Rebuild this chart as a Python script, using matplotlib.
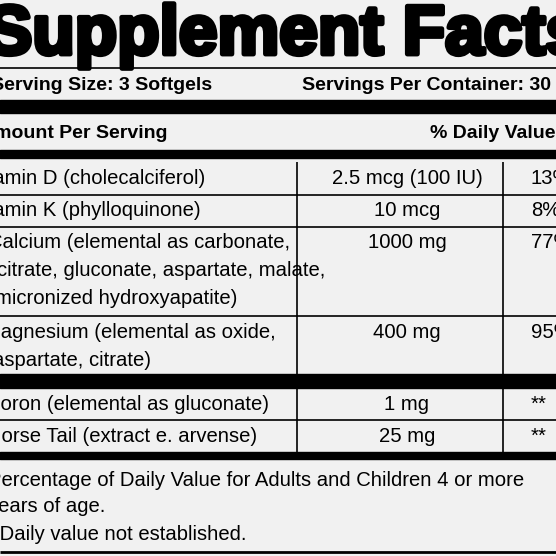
import matplotlib.pyplot as plt
import matplotlib.patheffects as pe

# label contents
title = "Supplement Facts"
serving_size = "Serving Size: 3 Softgels"
servings_per = "Servings Per Container: 30"
names = [["Vitamin D (cholecalciferol)"],
         ["Vitamin K (phylloquinone)"],
         ["Calcium (elemental as carbonate,", "citrate, gluconate, aspartate, malate,", "micronized hydroxyapatite)"],
         ["Magnesium (elemental as oxide,", "aspartate, citrate)"],
         ["Boron (elemental as gluconate)"],
         ["Horse Tail (extract e. arvense)"]]
amounts = ["2.5 mcg (100 IU)", "10 mcg", "1000 mg", "400 mg", "1 mg", "25 mg"]
daily = ["13%", "8%", "77%", "95%", "**", "**"]
footnotes = ["Percentage of Daily Value for Adults and Children 4 or more",
             "years of age.", "** Daily value not established."]

row_tops = [162, 195, 227, 316, 388, 420]

fig = plt.figure(figsize=(5.56, 5.56), dpi=100)
fig.patch.set_facecolor('#f1f1f1')
ax = fig.add_axes([0, 0, 1, 1])
ax.set_xlim(0, 556)
ax.set_ylim(556, 0)
ax.axis('off')
plt.rcParams['font.family'] = ['Liberation Sans', 'DejaVu Sans']

fs = 14.6
ax.text(-14, 36, title, fontsize=50, fontweight='bold', va='center', ha='left',
        path_effects=[pe.withStroke(linewidth=3.5, foreground='black')])
ax.hlines(68, 0, 556, color='black', lw=1.2)
ax.text(-9, 85, serving_size, fontsize=14, fontweight='bold', va='center')
ax.text(302, 85, servings_per, fontsize=14, fontweight='bold', va='center')
ax.fill_between([0, 556], 100, 113, color='black')
ax.text(-20, 133, "Amount Per Serving", fontsize=14, fontweight='bold', va='center')
ax.text(430, 133, "% Daily Value", fontsize=14, fontweight='bold', va='center')
ax.fill_between([0, 556], 150, 158, color='black')

line_offsets = [[-30], [-30], [-12, -3, -5], [-16, -7], [-13], [-13]]
for i in range(len(names)):
    top = row_tops[i]
    for j, line in enumerate(names[i]):
        ax.text(line_offsets[i][j], top + 16 + j * 28, line, fontsize=fs, va='center')
    ax.text(407, top + 16, amounts[i], fontsize=fs, va='center', ha='center')
    ax.text(531, top + 16, daily[i], fontsize=fs, va='center', ha='left')
    bottom = row_tops[i + 1] if i + 1 < len(row_tops) else 452
    if i == 3:
        ax.fill_between([0, 556], 374, 388, color='black')
        bottom = 374
    elif i < 5:
        ax.hlines(bottom, 0, 556, color='black', lw=1.2)
    ax.vlines([297, 503], top, bottom, color='black', lw=1.2)
ax.fill_between([0, 556], 452, 459, color='black')

ax.text(-12, 480, footnotes[0], fontsize=fs, va='center')
ax.text(-12, 507, footnotes[1], fontsize=fs, va='center')
ax.text(-22, 535, footnotes[2], fontsize=fs, va='center')
ax.hlines(552, 0, 556, color='black', lw=2)

fig.savefig('out.png', dpi=100, facecolor=fig.get_facecolor())
